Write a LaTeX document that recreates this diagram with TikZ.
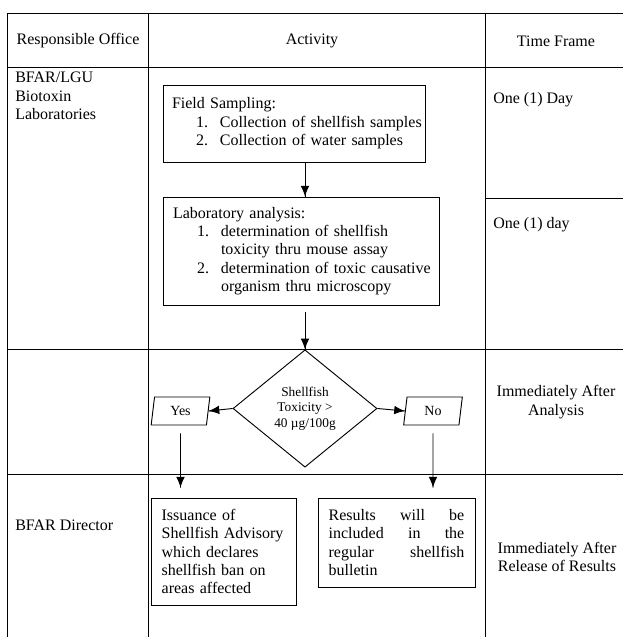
\documentclass[tikz,border=0pt]{standalone}
\usepackage{fontspec}
\setmainfont{Liberation Serif}
\usetikzlibrary{arrows.meta}
\usetikzlibrary{decorations.markings}
\usetikzlibrary{shapes.geometric}
\tikzset{->/.style = {line width=0.7pt, decoration={markings,mark=at position 1 with {\arrow{Latex[length=8pt,width=6.5pt]}}},postaction={decorate}}}
\tikzset{rule/.style = {line width=0.6pt}}
\tikzset{cell/.style = {inner sep=0, font=\fontsize{12}{13.8}\selectfont}}
\tikzset{stepbox/.style = {draw, line width=0.7pt, align=left, inner ysep=0, font=\fontsize{12}{13.8}\selectfont}}
\tikzset{test/.style = {draw, line width=0.7pt, diamond, minimum width=108pt, minimum height=88pt, inner sep=0, align=center, font=\fontsize{10}{11.5}\selectfont}}
\tikzset{choice/.style = {draw, line width=0.7pt, trapezium, trapezium left angle=70, trapezium right angle=110, trapezium stretches body=true, minimum width=44pt, minimum height=21pt, inner sep=0, font=\fontsize{10.5}{12}\selectfont}}
\newcommand{\listitem}[2]{\hspace*{18pt}\makebox[18pt][l]{#1}\mbox{#2}}
\newcommand{\listmore}[1]{\hspace*{36pt}\mbox{#1}}

\begin{document}
\begin{tikzpicture}[x=0.75pt,y=-0.75pt]
        \useasboundingbox (0,0) rectangle (623,637);
        % table rules
        \foreach \y in {13,67,349,474}
            \draw[rule] (7,\y) -- (623,\y);
        \draw[rule] (485,198) -- (623,198);
        \foreach \x in {7,148,485}
            \draw[rule] (\x,13) -- (\x,637);
        % heading and side cells
        \node[cell] (office) at (78,41) {Responsible Office};
        \node[cell] (activity) at (312,41) {Activity};
        \node[cell] (frame) at (556,41) {Time Frame};
        \node[cell, align=left, anchor=north west] (labstaff) at (15,72) {BFAR/LGU\\Biotoxin\\Laboratories};
        \node[cell, anchor=west] (dayone) at (493,100) {One (1) Day};
        \node[cell, anchor=west] (daytwo) at (493,225) {One (1) day};
        \node[cell, align=center] (afteranalysis) at (556,402) {Immediately After\\Analysis};
        \node[cell, anchor=west] (director) at (15,525) {BFAR Director};
        \node[cell, align=center] (afterrelease) at (557,557) {Immediately After\\Release of Results};
        % flow
        \node[stepbox, text width=183pt, inner xsep=6.75pt, minimum height=57.75pt] (field) at (294,123.5) {Field Sampling:\\
            \listitem{1.}{Collection of shellfish samples}\\
            \listitem{2.}{Collection of water samples}};
        \node[stepbox, text width=192pt, inner xsep=7.5pt, minimum height=81pt] (lab) at (301,251) {Laboratory analysis:\\
            \listitem{1.}{determination of shellfish}\\
            \listmore{toxicity thru mouse assay}\\
            \listitem{2.}{determination of toxic causative}\\
            \listmore{organism thru microscopy}};
        \node[test] (toxic) at (305,408.5) {Shellfish\\Toxicity >\\40 µg/100g};
        \node[choice] (yes) at (180.5,411) {Yes};
        \node[choice] (no) at (433,411) {No};
        \node[stepbox, text width=92.75pt, inner xsep=8pt, minimum height=80.25pt] (advisory) at (223.5,551.5) {Issuance of\\Shellfish Advisory\\which declares\\shellfish ban on\\areas affected};
        \node[stepbox, text width=101.75pt, inner xsep=8pt, minimum height=66.75pt] (bulletin) at (396.5,542.5) {Results\hfill will\hfill be\\included\hfill in\hfill the\\regular\hfill shellfish\\bulletin};
        \path (advisory.north) ++(0,-10) coordinate (advisoryin);
        \path (bulletin.north) ++(0,-10) coordinate (bulletinin);
        \draw[->] (field.south -| toxic) -- (lab.north -| toxic);
        \draw[->, shorten <=5pt] (lab.south -| toxic) -- (toxic.north);
        \draw[->] (toxic.west) -- (yes.east);
        \draw[->] (toxic.east) -- (no.west);
        \draw[->, shorten <=6pt] (yes.south) -- (yes |- advisoryin);
        \draw[->, shorten <=6pt] (no.south) -- (no |- bulletinin);
    \end{tikzpicture}
\end{document}
